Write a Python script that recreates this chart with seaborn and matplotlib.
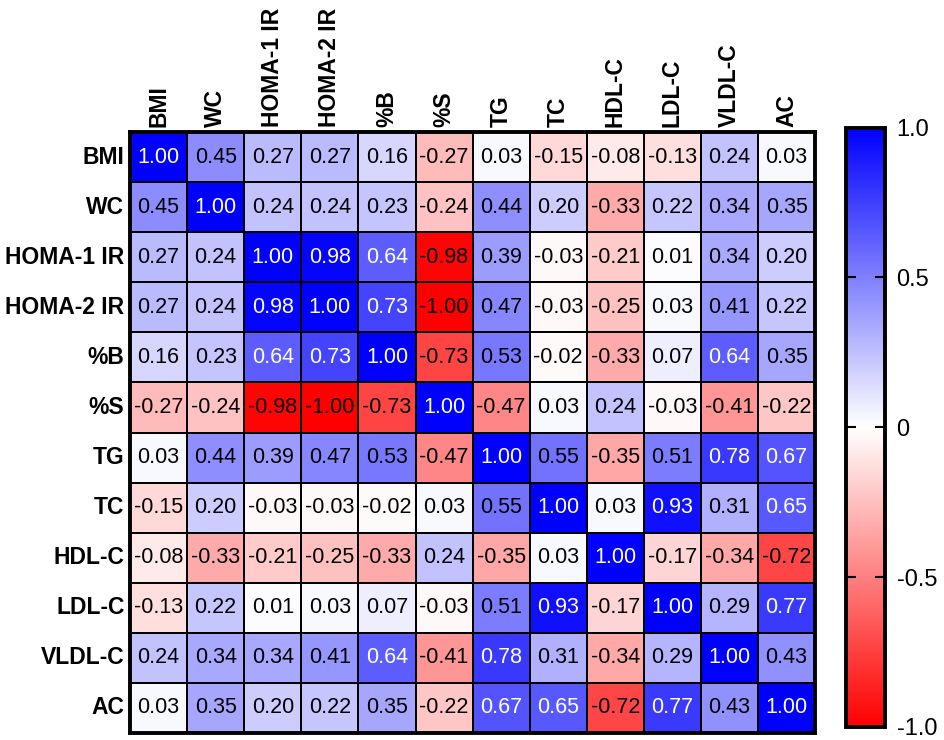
import numpy as np
import pandas as pd
import matplotlib
matplotlib.use("Agg")
import matplotlib.pyplot as plt
import seaborn as sns
from matplotlib.colors import LinearSegmentedColormap

labels = ["BMI", "WC", "HOMA-1 IR", "HOMA-2 IR", "%B", "%S", "TG", "TC",
          "HDL-C", "LDL-C", "VLDL-C", "AC"]

bmi = [1.00, 0.45, 0.27, 0.27, 0.16, -0.27, 0.03, -0.15, -0.08, -0.13, 0.24, 0.03]
wc = [0.45, 1.00, 0.24, 0.24, 0.23, -0.24, 0.44, 0.20, -0.33, 0.22, 0.34, 0.35]
homa1 = [0.27, 0.24, 1.00, 0.98, 0.64, -0.98, 0.39, -0.03, -0.21, 0.01, 0.34, 0.20]
homa2 = [0.27, 0.24, 0.98, 1.00, 0.73, -1.00, 0.47, -0.03, -0.25, 0.03, 0.41, 0.22]
pct_b = [0.16, 0.23, 0.64, 0.73, 1.00, -0.73, 0.53, -0.02, -0.33, 0.07, 0.64, 0.35]
pct_s = [-0.27, -0.24, -0.98, -1.00, -0.73, 1.00, -0.47, 0.03, 0.24, -0.03, -0.41, -0.22]
tg = [0.03, 0.44, 0.39, 0.47, 0.53, -0.47, 1.00, 0.55, -0.35, 0.51, 0.78, 0.67]
tc = [-0.15, 0.20, -0.03, -0.03, -0.02, 0.03, 0.55, 1.00, 0.03, 0.93, 0.31, 0.65]
hdl = [-0.08, -0.33, -0.21, -0.25, -0.33, 0.24, -0.35, 0.03, 1.00, -0.17, -0.34, -0.72]
ldl = [-0.13, 0.22, 0.01, 0.03, 0.07, -0.03, 0.51, 0.93, -0.17, 1.00, 0.29, 0.77]
vldl = [0.24, 0.34, 0.34, 0.41, 0.64, -0.41, 0.78, 0.31, -0.34, 0.29, 1.00, 0.43]
ac = [0.03, 0.35, 0.20, 0.22, 0.35, -0.22, 0.67, 0.65, -0.72, 0.77, 0.43, 1.00]

df = pd.DataFrame([bmi, wc, homa1, homa2, pct_b, pct_s, tg, tc, hdl, ldl, vldl, ac],
                  index=labels, columns=labels)

plt.rcParams["font.family"] = ["Liberation Sans", "DejaVu Sans"]

cmap = LinearSegmentedColormap.from_list("rwb", ["#ff0000", "#ffffff", "#0000ff"])

fig = plt.figure(figsize=(9.45, 7.4), dpi=100)
ax = fig.add_axes([0.1376, 0.0095, 0.725, 0.812])
cax = fig.add_axes([0.895, 0.0176, 0.042, 0.81])

sns.heatmap(df, ax=ax, cbar_ax=cax, cmap=cmap, vmin=-1, vmax=1,
            annot=True, fmt=".2f", annot_kws={"fontsize": 15.5},
            linewidths=1.2, linecolor="black", square=False)

# text colour: white only on strong positive cells
for t, v in zip(ax.texts, df.values.flatten()):
    t.set_color("white" if v >= 0.6 else "black")

ax.xaxis.tick_top()
ax.set_xticklabels(labels, rotation=90, fontsize=16.5, fontweight="bold")
ax.set_yticklabels(labels, rotation=0, fontsize=16.5, fontweight="bold")
ax.tick_params(length=0, pad=4)
for s in ax.spines.values():
    s.set_visible(True)
    s.set_linewidth(2.8)

cb = ax.collections[0].colorbar
cb.set_ticks([-1, -0.5, 0, 0.5, 1])
cb.set_ticklabels(["-1.0", "-0.5", "0", "0.5", "1.0"])
cb.outline.set_linewidth(2.8)
cb.outline.set_edgecolor("black")
cax.tick_params(direction="in", left=True, right=True, length=7, width=1.5,
                labelsize=17, pad=8)

fig.savefig("out.png", dpi=100)
